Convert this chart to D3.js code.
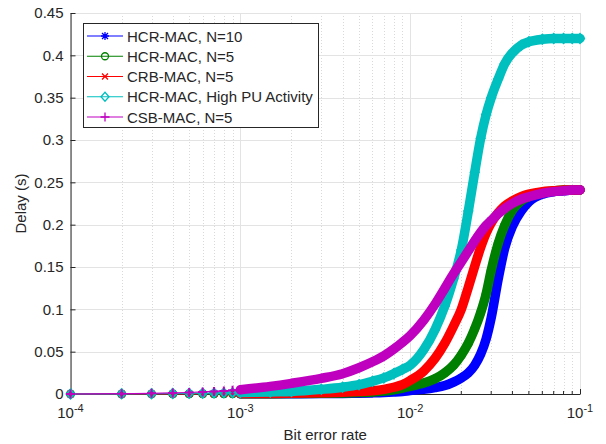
<!DOCTYPE html>
<html>
<head>
<meta charset="utf-8">
<script src="https://cdn.jsdelivr.net/npm/d3@7"></script>
<style>
  body { margin: 0; background: #fff; }
  text { font-family: "Liberation Sans", Arial, sans-serif; fill: #262626; }
</style>
</head>
<body>
<div id="chart"></div>
<script>
// bit error rate values (x) and delay values (s) for each curve
var ber = [1e-4, 2e-4, 3e-4, 4e-4, 5e-4, 6e-4, 7e-4, 8e-4, 9e-4, 1e-3,
           1.5e-3, 2e-3, 3e-3, 4e-3, 5e-3, 6e-3, 7e-3, 8e-3, 9e-3, 0.01,
           0.012, 0.014, 0.016, 0.018, 0.02, 0.022, 0.024, 0.026, 0.028, 0.03,
           0.033, 0.036, 0.04, 0.045, 0.05, 0.06, 0.07, 0.08, 0.09, 0.1];

var hcrN10 = [0, 0, 0, 0.0001, 0.0001, 0.0001, 0.0001, 0.0002, 0.0002, 0.0002,
              0.0003, 0.0003, 0.0005, 0.0007, 0.001, 0.0013, 0.0017, 0.0023, 0.003, 0.004,
              0.0055, 0.0075, 0.010, 0.014, 0.019, 0.025, 0.034, 0.047, 0.065, 0.090,
              0.136, 0.172, 0.198, 0.216, 0.227, 0.236, 0.239, 0.240, 0.241, 0.241];

var hcrN5 = [0, 0, 0.0001, 0.0001, 0.0001, 0.0002, 0.0002, 0.0002, 0.0003, 0.0003,
             0.0004, 0.0005, 0.0008, 0.0012, 0.0017, 0.0024, 0.0035, 0.005, 0.007, 0.009,
             0.013, 0.018, 0.025, 0.034, 0.046, 0.060, 0.077, 0.096, 0.118, 0.146,
             0.178, 0.199, 0.217, 0.228, 0.233, 0.238, 0.240, 0.241, 0.241, 0.241];

var crbN5 = [0, 0.0001, 0.0001, 0.0002, 0.0002, 0.0003, 0.0003, 0.0004, 0.0004, 0.0005,
             0.0007, 0.001, 0.0015, 0.002, 0.0028, 0.0038, 0.0055, 0.008, 0.011, 0.016,
             0.027, 0.042, 0.060, 0.080, 0.100, 0.126, 0.151, 0.173, 0.190, 0.202,
             0.214, 0.222, 0.228, 0.233, 0.236, 0.239, 0.240, 0.241, 0.241, 0.241];

var hcrHighPU = [0, 0.0002, 0.0004, 0.0006, 0.0008, 0.001, 0.0012, 0.0014, 0.0016, 0.0018,
                 0.0025, 0.003, 0.0055, 0.008, 0.011, 0.015, 0.019, 0.024, 0.029, 0.034,
                 0.052, 0.076, 0.104, 0.136, 0.170, 0.216, 0.262, 0.302, 0.330, 0.350,
                 0.372, 0.390, 0.403, 0.412, 0.416, 0.419, 0.420, 0.420, 0.420, 0.420];

var csbN5 = [0, 0.0004, 0.0008, 0.0013, 0.0018, 0.0024, 0.003, 0.0036, 0.0043, 0.005,
             0.009, 0.0126, 0.0185, 0.024, 0.031, 0.038, 0.045, 0.053, 0.061, 0.069,
             0.087, 0.106, 0.125, 0.142, 0.156, 0.169, 0.181, 0.191, 0.199, 0.205,
             0.213, 0.219, 0.225, 0.230, 0.233, 0.237, 0.239, 0.240, 0.241, 0.241];

var seriesNames = ["HCR-MAC, N=10", "HCR-MAC, N=5", "CRB-MAC, N=5", "HCR-MAC, High PU Activity", "CSB-MAC, N=5"];
var seriesValues = [hcrN10, hcrN5, crbN5, hcrHighPU, csbN5];
var seriesColors = ["#0000ff", "#008000", "#ff0000", "#00bfbf", "#bf00bf"];
var seriesMarkers = ["star", "circle", "cross", "diamond", "plus"];

var yTicks = [0, 0.05, 0.1, 0.15, 0.2, 0.25, 0.3, 0.35, 0.4, 0.45];
var xDecades = [1e-4, 1e-3, 1e-2, 1e-1];
var xExponents = ["-4", "-3", "-2", "-1"];

var width = 606, height = 444;
var plotLeft = 70.5, plotRight = 580, plotTop = 13, plotBottom = 394;

var svg = d3.select("#chart").append("svg")
    .attr("width", width)
    .attr("height", height);

var x = d3.scaleLog().domain([1e-4, 0.1]).range([plotLeft, plotRight]);
var y = d3.scaleLinear().domain([0, 0.45]).range([plotBottom, plotTop]);

// minor x values 2..9 per decade
var xMinor = [];
[1e-4, 1e-3, 1e-2].forEach(function (d) {
  for (var k = 2; k <= 9; k++) xMinor.push(d * k);
});

// grid
var grid = svg.append("g").attr("class", "grid");
grid.selectAll("line.minor")
    .data(xMinor)
    .enter().append("line")
    .attr("class", "minor")
    .attr("x1", function (d) { return Math.round(x(d)) + 0.5; })
    .attr("x2", function (d) { return Math.round(x(d)) + 0.5; })
    .attr("y1", plotTop).attr("y2", plotBottom)
    .attr("stroke", "#d9d9d9")
    .attr("stroke-dasharray", "1,2");
grid.selectAll("line.majorx")
    .data(xDecades)
    .enter().append("line")
    .attr("class", "majorx")
    .attr("x1", function (d) { return Math.round(x(d)) + 0.5; })
    .attr("x2", function (d) { return Math.round(x(d)) + 0.5; })
    .attr("y1", plotTop).attr("y2", plotBottom)
    .attr("stroke", "#e3e3e3");
grid.selectAll("line.majory")
    .data(yTicks)
    .enter().append("line")
    .attr("class", "majory")
    .attr("x1", plotLeft).attr("x2", plotRight)
    .attr("y1", function (d) { return Math.round(y(d)) + 0.5; })
    .attr("y2", function (d) { return Math.round(y(d)) + 0.5; })
    .attr("stroke", "#e3e3e3");

// axes
var xAxis = svg.append("g")
    .attr("transform", "translate(0," + plotBottom + ")")
    .call(d3.axisBottom(x).tickValues(xDecades).tickSizeInner(-5).tickSizeOuter(0).tickFormat(""));
xAxis.selectAll("line.minortick")
    .data(xMinor)
    .enter().append("line")
    .attr("class", "minortick")
    .attr("x1", function (d) { return x(d); })
    .attr("x2", function (d) { return x(d); })
    .attr("y1", 0).attr("y2", -3)
    .attr("stroke", "#262626");

var yAxis = svg.append("g")
    .attr("transform", "translate(" + plotLeft + ",0)")
    .call(d3.axisLeft(y).tickValues(yTicks).tickSizeInner(-5).tickSizeOuter(0).tickPadding(7)
      .tickFormat(function (d) { return d3.format("~g")(d); }));

[xAxis, yAxis].forEach(function (a) {
  a.select(".domain").attr("stroke", "#262626");
  a.selectAll(".tick line").attr("stroke", "#262626");
  a.selectAll("text").style("font-size", "15px").attr("fill", "#262626")
      .style("font-family", "'Liberation Sans', Arial, sans-serif");
});

// x tick labels 10^n
var xl = svg.append("g");
xDecades.forEach(function (d, i) {
  var t = xl.append("text")
      .attr("x", x(d))
      .attr("y", 418)
      .attr("text-anchor", "middle")
      .style("font-size", "15px");
  t.append("tspan").text("10");
  t.append("tspan").attr("dy", -6).style("font-size", "11px").text(xExponents[i]);
});

svg.append("text")
    .attr("x", (plotLeft + plotRight) / 2)
    .attr("y", 440)
    .attr("text-anchor", "middle")
    .style("font-size", "15px")
    .text("Bit error rate");

svg.append("text")
    .attr("transform", "translate(26," + ((plotTop + plotBottom) / 2) + ") rotate(-90)")
    .attr("text-anchor", "middle")
    .style("font-size", "15px")
    .text("Delay (s)");

// marker shapes
function markerPath(type) {
  switch (type) {
    case "star": return "M-4,0L4,0M0,-4L0,4M-3,-3L3,3M-3,3L3,-3";
    case "circle": return "M3.5,0A3.5,3.5 0 1,1 -3.5,0A3.5,3.5 0 1,1 3.5,0Z";
    case "cross": return "M-3,-3L3,3M-3,3L3,-3";
    case "diamond": return "M0,-4.5L4,0L0,4.5L-4,0Z";
    case "plus": return "M-4.5,0L4.5,0M0,-4.5L0,4.5";
  }
}

var thin = d3.line()
    .x(function (d) { return x(d[0]); })
    .y(function (d) { return y(d[1]); })
    .curve(d3.curveMonotoneX);

seriesValues.forEach(function (vals, i) {
  var pts = ber.map(function (b, j) { return [b, vals[j]]; });
  var g = svg.append("g").attr("class", "series");
  var c = seriesColors[i];

  g.append("path")
      .attr("d", thin(pts))
      .attr("fill", "none")
      .attr("stroke", c)
      .attr("stroke-width", 1.2);

  // dense markers merge into a thick band beyond 1e-3
  g.append("path")
      .attr("d", thin(pts.filter(function (p) { return p[0] >= 1e-3; })))
      .attr("fill", "none")
      .attr("stroke", c)
      .attr("stroke-width", 9.5)
      .attr("stroke-linecap", "round")
      .attr("stroke-linejoin", "round");

  g.selectAll("path.marker")
      .data(pts)
      .enter().append("path")
      .attr("class", "marker")
      .attr("transform", function (d) { return "translate(" + x(d[0]) + "," + y(d[1]) + ")"; })
      .attr("d", markerPath(seriesMarkers[i]))
      .attr("fill", "none")
      .attr("stroke", c)
      .attr("stroke-width", 2);
});

// legend
var legend = svg.append("g").attr("transform", "translate(83,23)");
legend.append("rect")
    .attr("x", 0.5).attr("y", 0.5)
    .attr("width", 235).attr("height", 104)
    .attr("fill", "#fff")
    .attr("stroke", "#262626")
    .attr("stroke-width", 1);

seriesNames.forEach(function (name, i) {
  var ly = 13 + i * 20.25;
  var row = legend.append("g").attr("transform", "translate(0," + ly + ")");
  row.append("line")
      .attr("x1", 4).attr("x2", 40)
      .attr("y1", 0).attr("y2", 0)
      .attr("stroke", seriesColors[i])
      .attr("stroke-width", 1.2);
  row.append("path")
      .attr("transform", "translate(22,0)")
      .attr("d", markerPath(seriesMarkers[i]))
      .attr("fill", "none")
      .attr("stroke", seriesColors[i])
      .attr("stroke-width", 1.3);
  row.append("text")
      .attr("x", 44)
      .attr("y", 5.5)
      .style("font-size", "15px")
      .text(name);
});
</script>
</body>
</html>
